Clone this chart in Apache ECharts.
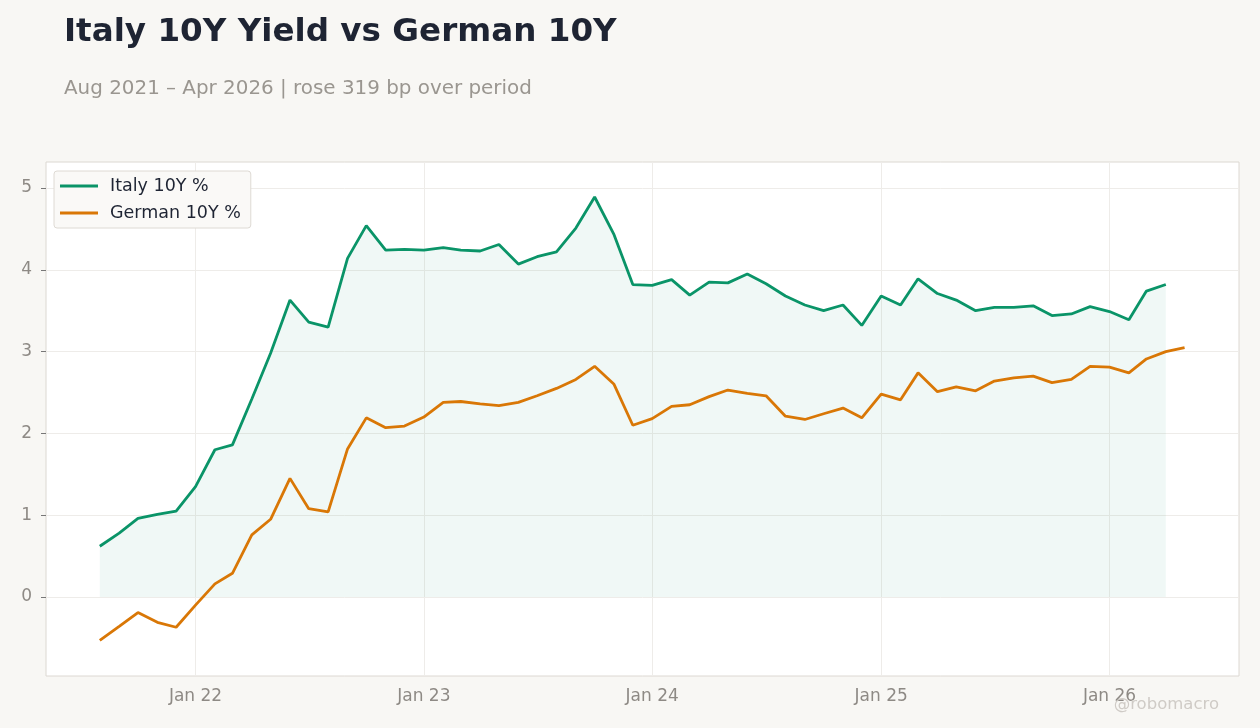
<!DOCTYPE html>
<html><head><meta charset="utf-8">
<script src="https://cdn.jsdelivr.net/npm/echarts@6/dist/echarts.min.js"></script>
<style>html,body{margin:0;padding:0;background:#f8f7f4;}#c{width:1260px;height:728px;}</style>
</head><body><div id="c"></div>
<script>
const months = [
 '2021-08-01','2021-09-01','2021-10-01','2021-11-01','2021-12-01',
 '2022-01-01','2022-02-01','2022-03-01','2022-04-01','2022-05-01','2022-06-01','2022-07-01','2022-08-01','2022-09-01','2022-10-01','2022-11-01','2022-12-01',
 '2023-01-01','2023-02-01','2023-03-01','2023-04-01','2023-05-01','2023-06-01','2023-07-01','2023-08-01','2023-09-01','2023-10-01','2023-11-01','2023-12-01',
 '2024-01-01','2024-02-01','2024-03-01','2024-04-01','2024-05-01','2024-06-01','2024-07-01','2024-08-01','2024-09-01','2024-10-01','2024-11-01','2024-12-01',
 '2025-01-01','2025-02-01','2025-03-01','2025-04-01','2025-05-01','2025-06-01','2025-07-01','2025-08-01','2025-09-01','2025-10-01','2025-11-01','2025-12-01',
 '2026-01-01','2026-02-01','2026-03-01','2026-04-01','2026-05-01'
];
const italy10y = [0.62,0.78,0.96,1.01,1.05,1.35,1.80,1.86,2.42,2.98,3.63,3.36,3.30,4.14,4.54,4.24,4.25,
 4.24,4.27,4.24,4.23,4.31,4.07,4.16,4.22,4.51,4.89,4.43,3.82,
 3.81,3.88,3.69,3.85,3.84,3.95,3.83,3.68,3.57,3.50,3.57,3.32,
 3.68,3.57,3.89,3.71,3.63,3.50,3.54,3.54,3.56,3.44,3.46,3.55,
 3.49,3.39,3.74,3.82];
const german10y = [-0.53,-0.36,-0.19,-0.31,-0.37,-0.10,0.16,0.29,0.76,0.95,1.45,1.08,1.04,1.81,2.19,2.07,2.09,
 2.20,2.38,2.39,2.36,2.34,2.38,2.46,2.55,2.66,2.82,2.60,2.10,
 2.18,2.33,2.35,2.45,2.53,2.49,2.46,2.21,2.17,2.24,2.31,2.19,
 2.48,2.41,2.74,2.51,2.57,2.52,2.64,2.68,2.70,2.62,2.66,2.82,
 2.81,2.74,2.91,3.00,3.05];
const xTickDates = ['2022-01-01','2023-01-01','2024-01-01','2025-01-01','2026-01-01'];
const xTickLabels = ['Jan 22','Jan 23','Jan 24','Jan 25','Jan 26'];
const yTicks = [0, 1, 2, 3, 4, 5];
const xMin = '2021-05-07', xMax = '2026-07-27';
const yMin = -0.966, yMax = 5.318;

const ts = d => { const p = d.split('-').map(Number); return Date.UTC(p[0], p[1]-1, p[2]); };
const tickTs = xTickDates.map(ts);
const FONT = "'DejaVu Sans', sans-serif";

const chart = echarts.init(document.getElementById('c'), null, {renderer:'canvas'});
chart.setOption({
  backgroundColor: '#f8f7f4',
  animation: false,
  textStyle: {fontFamily: FONT},
  title: [
    {text: 'Italy 10Y Yield vs German 10Y', left: 59, top: 11,
     textStyle: {fontFamily: FONT, fontSize: 32.6, fontWeight: 'bold', color: '#1e2433'}},
    {text: 'Aug 2021 – Apr 2026 | rose 319 bp over period', left: 59, top: 74,
     textStyle: {fontFamily: FONT, fontSize: 19.9, fontWeight: 'normal', color: '#9a9690'}},
    {text: '@robomacro', right: 36, bottom: 10,
     textStyle: {fontFamily: FONT, fontSize: 16.5, fontWeight: 'normal', color: '#cfcbc6'}}
  ],
  legend: {
    data: ['Italy 10Y %', 'German 10Y %'],
    orient: 'vertical', left: 54, top: 171,
    backgroundColor: '#faf9f7', borderColor: '#dedad4', borderWidth: 1, borderRadius: 3,
    padding: [6, 10, 6, 6], itemGap: 9, itemWidth: 38, itemHeight: 18,
    icon: 'path://M0,7.5 L38,7.5 L38,10.5 L0,10.5 Z',
    textStyle: {fontFamily: FONT, fontSize: 17.5, color: '#1e2433', padding:[0,0,0,7]}
  },
  grid: {left: 46, right: 21, top: 162, bottom: 52, show: true,
    backgroundColor: '#ffffff', borderColor: '#dcd8d2', borderWidth: 1},
  xAxis: {
    type: 'value', min: ts(xMin), max: ts(xMax),
    axisLine: {show: false},
    axisTick: {show: true, customValues: tickTs, length: 5, lineStyle: {color: '#777'}},
    axisLabel: {customValues: tickTs, fontFamily: FONT, fontSize: 17, color: '#8e8a85', margin: 12,
      formatter: v => { const i = tickTs.indexOf(v); return i >= 0 ? xTickLabels[i] : ''; }},
    splitLine: {show: false}
  },
  yAxis: {
    type: 'value', min: yMin, max: yMax,
    axisLine: {show: false},
    axisTick: {show: true, customValues: yTicks, length: 5, lineStyle: {color: '#777'}},
    axisLabel: {customValues: yTicks, fontFamily: FONT, fontSize: 17, color: '#8e8a85', margin: 14,
      formatter: v => String(v)},
    splitLine: {show: true, lineStyle: {color: '#eeece9', width: 1}}
  },
  series: [
    {name: 'grid', type: 'line', data: [], silent: true, z: 1,
     markLine: {silent: true, z: 1, symbol: ['none','none'], label: {show: false},
       lineStyle: {color: '#eeece9', width: 1, type: 'solid'},
       data: tickTs.map(t => ({xAxis: t}))}},
    {name: 'Italy 10Y %', type: 'line', z: 6,
     data: italy10y.map((v,i) => [ts(months[i]), v]),
     showSymbol: false, symbol: 'none',
     lineStyle: {color: '#0a9468', width: 2.8}, itemStyle: {color: '#0a9468'},
     areaStyle: {color: 'rgba(10,148,104,0.09)', origin: 0}},
    {name: 'German 10Y %', type: 'line', z: 6,
     data: german10y.map((v,i) => [ts(months[i]), v]),
     showSymbol: false, symbol: 'none',
     lineStyle: {color: '#d97706', width: 2.8}, itemStyle: {color: '#d97706'}}
  ]
});
</script></body></html>
